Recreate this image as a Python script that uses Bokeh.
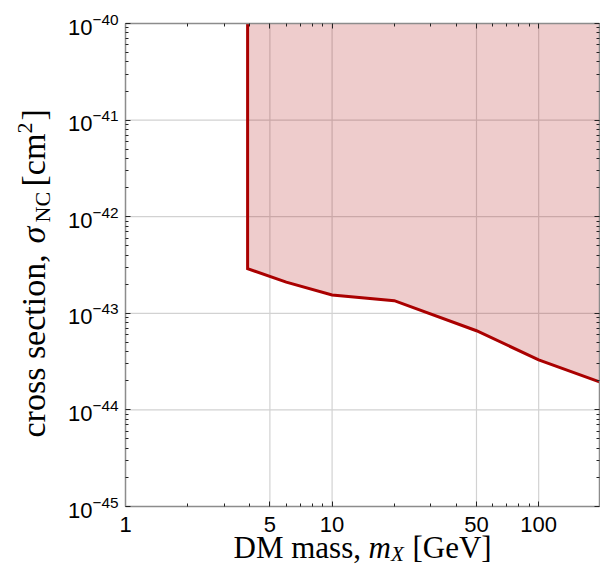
import math
from bokeh.plotting import figure
from bokeh.models import (LogAxis, FixedTicker, PrintfTickFormatter, LogTickFormatter,
                          CustomJSTickFormatter, Label, Range1d)
from bokeh.embed import file_html
from bokeh.resources import INLINE

# ---- data ----
mass_gev = [3.9, 3.9, 6.0, 10.0, 20.0, 50.0, 100.0, 197.0]
sigma_cm2 = [1e-40, 2.9e-43, 2.1e-43, 1.55e-43, 1.35e-43, 6.6e-44, 3.3e-44, 1.95e-44]

x_ticks = [1, 5, 10, 50, 100]
x_minor = [2, 3, 4, 6, 7, 8, 9, 20, 30, 40, 60, 70, 80, 90]
y_exponents = [-45, -44, -43, -42, -41, -40]
y_ticks = [10.0 ** e for e in y_exponents]
y_minor = [k * 10.0 ** e for e in y_exponents[:-1] for k in range(2, 10)]

x_lim = [1, 197]
y_lim = [y_ticks[0], y_ticks[-1]]

# ---- layout (canvas pixels) ----
W, H = 600, 566
L, R, T, B = 125, 599, 23, 506   # plot box inside the canvas

lx0, lx1 = math.log10(x_lim[0]), math.log10(x_lim[1])
ly0, ly1 = math.log10(y_lim[0]), math.log10(y_lim[1])
kx = (lx1 - lx0) / (R - L)
ky = (ly1 - ly0) / (B - T)
x_range = Range1d(10 ** (lx0 - L * kx), 10 ** (lx0 + (W - L) * kx))
y_range = Range1d(10 ** (ly0 - (H - B) * ky), 10 ** (ly0 + B * ky))

LINE = "#AA0000"
FRAME = "#8c8c8c"
GRID = "#d2d2d2"

p = figure(width=W, height=H, x_axis_type="log", y_axis_type="log",
           x_range=x_range, y_range=y_range,
           x_axis_location=None, y_axis_location=None,
           output_backend="svg", toolbar_location=None, min_border=0)
p.background_fill_color = "white"
p.border_fill_color = "white"
p.outline_line_color = None
for g in p.grid:
    g.visible = False

# grid lines at the major ticks
gx = x_ticks[1:]
gy = y_ticks[1:-1]
p.segment(x0=gx, y0=[y_lim[0]] * len(gx), x1=gx, y1=[y_lim[1]] * len(gx),
          line_color=GRID, line_width=1.2)
p.segment(x0=[x_lim[0]] * len(gy), y0=gy, x1=[x_lim[1]] * len(gy), y1=gy,
          line_color=GRID, line_width=1.2)

# excluded region
p.patch(x=mass_gev + [mass_gev[-1]], y=sigma_cm2 + [y_lim[1]],
        fill_color=LINE, fill_alpha=0.2, line_color=None)
p.line(x=mass_gev, y=sigma_cm2, line_color=LINE, line_width=3, line_join="miter")

# axes (placed on the box edges)
blank = CustomJSTickFormatter(code="return ''")
bottom = LogAxis(fixed_location=y_lim[0], bounds=tuple(x_lim),
                 ticker=FixedTicker(ticks=x_ticks, minor_ticks=x_minor),
                 formatter=PrintfTickFormatter(format="%d"))
left = LogAxis(fixed_location=x_lim[0], bounds=tuple(y_lim),
               ticker=FixedTicker(ticks=y_ticks, minor_ticks=y_minor),
               formatter=LogTickFormatter())
top = LogAxis(fixed_location=y_lim[1], bounds=tuple(x_lim),
              ticker=FixedTicker(ticks=x_ticks, minor_ticks=x_minor),
              formatter=blank, major_label_text_font_size="1px", major_label_standoff=0)
right = LogAxis(fixed_location=x_lim[1], bounds=tuple(y_lim),
                ticker=FixedTicker(ticks=y_ticks, minor_ticks=y_minor),
                formatter=blank, major_label_text_font_size="1px", major_label_standoff=0)
p.add_layout(bottom, "below")
p.add_layout(left, "left")
p.add_layout(top, "above")
p.add_layout(right, "right")

for ax in (bottom, left, top, right):
    ax.axis_line_color = FRAME
    ax.axis_line_width = 1.5
    ax.major_tick_in = 5
    ax.major_tick_out = 0
    ax.minor_tick_in = 3
    ax.minor_tick_out = 0
    ax.major_tick_line_color = "#222222"
    ax.minor_tick_line_color = "#222222"

for ax in (bottom, left):
    ax.major_label_text_font = "Liberation Sans"
    ax.major_label_text_font_size = "22px"
    ax.major_label_text_color = "black"
bottom.major_label_standoff = 10
left.major_label_standoff = 7

SERIF = "Liberation Serif"
MID = 0.3375   # baseline offset from the vertical middle of a Liberation Serif line, in em

def lab(cx, cy, text, size, rotated=False, style="normal"):
    # (cx, cy): where the text baseline starts, canvas pixels from top-left
    if rotated:
        cx = cx - MID * size
    else:
        cy = cy - MID * size
    p.add_layout(Label(x=cx, y=H - cy, x_units="screen", y_units="screen", text=text,
                       text_font=SERIF, text_font_size=f"{size}px", text_font_style=style,
                       angle=math.pi / 2 if rotated else 0.0,
                       text_align="left", text_baseline="middle",
                       text_color="black"))

# x-axis label: DM mass, m_X [GeV]
xb = 557
lab(233, xb, "DM mass,", 31)
lab(368, xb, "m", 31, style="italic")
lab(390.5, xb + 4, "X", 21, style="italic")
lab(412, xb, "[GeV]", 31)

# y-axis label: cross section, sigma_NC [cm^2]
yb = 44
lab(yb, 437, "cross section,", 34, True)
lab(yb, 243, "σ", 34, True, "italic")
lab(yb + 5, 222, "NC", 22, True)
lab(yb, 186, "[cm", 34, True)
lab(yb - 12, 133, "2", 22, True)
lab(yb, 120, "]", 34, True)

open("out.html", "w").write(file_html(p, INLINE))
